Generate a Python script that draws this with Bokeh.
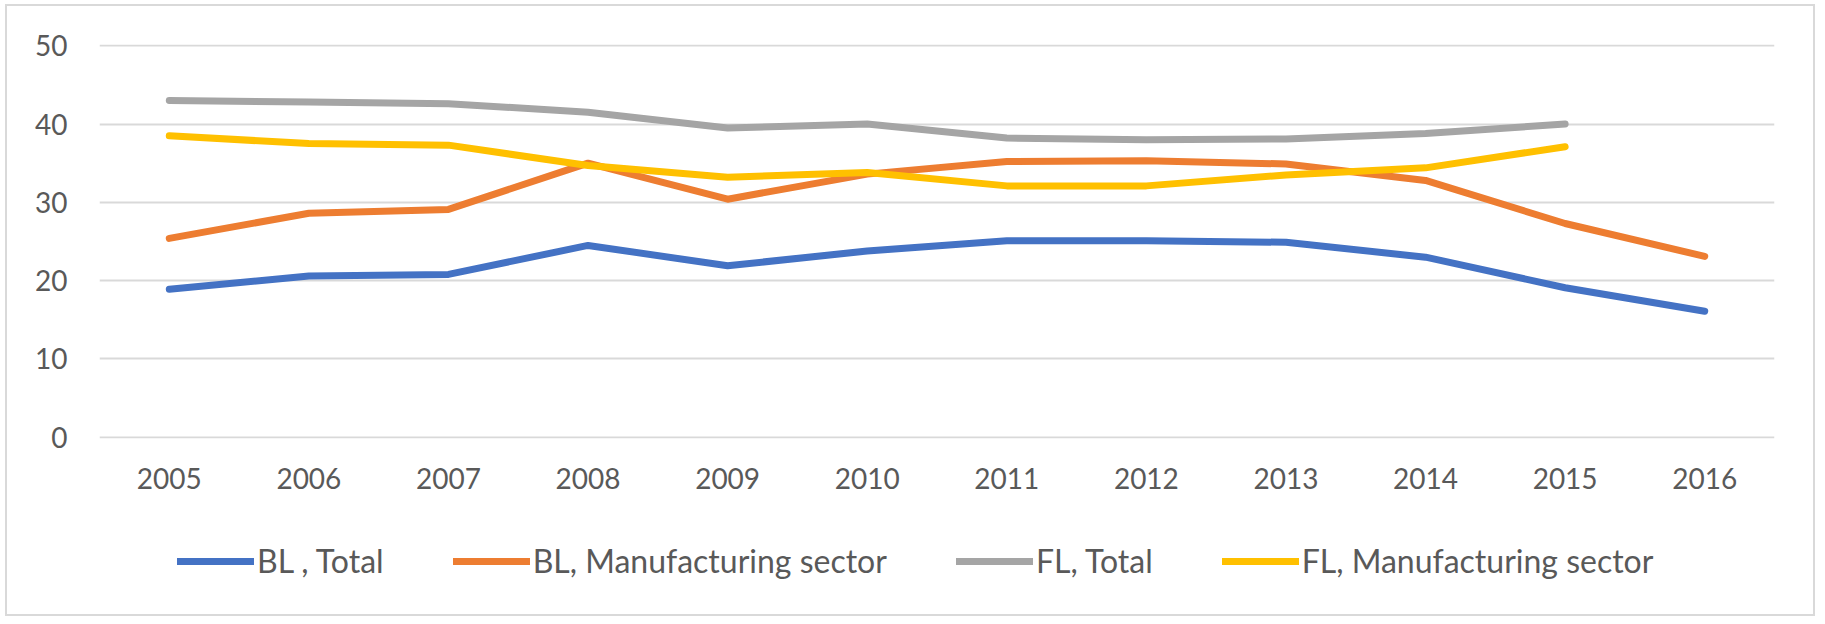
from bokeh.plotting import figure
from bokeh.layouts import column
from bokeh.models import Legend, LegendItem, FactorRange, FixedTicker
from bokeh.embed import file_html
from bokeh.resources import INLINE

years = ["2005", "2006", "2007", "2008", "2009", "2010", "2011", "2012", "2013", "2014", "2015", "2016"]
bl_total = [18.9, 20.6, 20.8, 24.5, 21.9, 23.8, 25.1, 25.1, 24.9, 23.0, 19.1, 16.1]
bl_manuf = [25.4, 28.6, 29.1, 35.0, 30.4, 33.6, 35.2, 35.3, 34.9, 32.8, 27.3, 23.1]
fl_years = years[:11]
fl_total = [43.0, 42.8, 42.6, 41.5, 39.5, 40.0, 38.2, 38.0, 38.1, 38.8, 40.0]
fl_manuf = [38.5, 37.5, 37.3, 34.7, 33.2, 33.8, 32.1, 32.1, 33.5, 34.4, 37.1]

names = ["BL , Total", "BL, Manufacturing sector", "FL, Total", "FL, Manufacturing sector"]
colors = ["#4472C4", "#ED7D31", "#A5A5A5", "#FFC000"]
yticks = [0, 10, 20, 30, 40, 50]

FONT = "Lato"
TXT = "#595959"
W = 1806

p = figure(width=W, height=512, x_range=FactorRange(*years, range_padding=0),
           y_range=(-0.15, 50.15), output_backend="svg", toolbar_location=None,
           min_border_left=92, min_border_right=39, min_border_top=38, min_border_bottom=80)
p.outline_line_color = None
p.background_fill_color = "white"
p.border_fill_color = "white"

series = [(years, bl_total), (years, bl_manuf), (fl_years, fl_total), (fl_years, fl_manuf)]
for (xs, ys), c in zip(series, colors):
    p.line(xs, ys, line_color=c, line_width=7, line_cap="round", line_join="round")

p.xgrid.grid_line_color = None
p.ygrid.grid_line_color = "#d9d9d9"
p.ygrid.grid_line_width = 2
p.yaxis.ticker = FixedTicker(ticks=yticks)

for ax in (p.xaxis[0], p.yaxis[0]):
    ax.axis_line_color = None
    ax.major_tick_line_color = None
    ax.minor_tick_line_color = None
    ax.major_tick_out = 0
    ax.major_tick_in = 0
    ax.minor_tick_out = 0
    ax.major_label_text_font = FONT
    ax.major_label_text_font_size = "28px"
    ax.major_label_text_color = TXT
p.yaxis.major_label_standoff = 32
p.xaxis.major_label_standoff = 29

# legend panel: same series drawn off-view (range far above data), only the legend shows
q = figure(width=W, height=96, x_range=FactorRange(*years, range_padding=0),
           y_range=(1000, 1001), output_backend="svg",
           toolbar_location=None, x_axis_location=None, y_axis_location=None,
           min_border=0)
q.outline_line_color = None
q.grid.visible = False
q.background_fill_color = "white"
q.border_fill_color = "white"
leg_renderers = [q.line(xs, ys, line_color=c, line_width=7, line_cap="round")
                 for (xs, ys), c in zip(series, colors)]

legend = Legend(items=[LegendItem(label=n, renderers=[r]) for n, r in zip(names, leg_renderers)],
                orientation="horizontal", location=(78, 34), margin=0, padding=0,
                spacing=69, glyph_width=77, glyph_height=30, label_height=30,
                label_standoff=3, border_line_color=None, background_fill_alpha=0,
                label_text_font=FONT, label_text_font_size="32px", label_text_color=TXT)
q.add_layout(legend, "center")

layout = column(p, q, spacing=0,
                styles={"border": "2px solid #d9d9d9", "margin": "4px 0 0 5px"})

open("out.html", "w").write(file_html(layout, INLINE))
